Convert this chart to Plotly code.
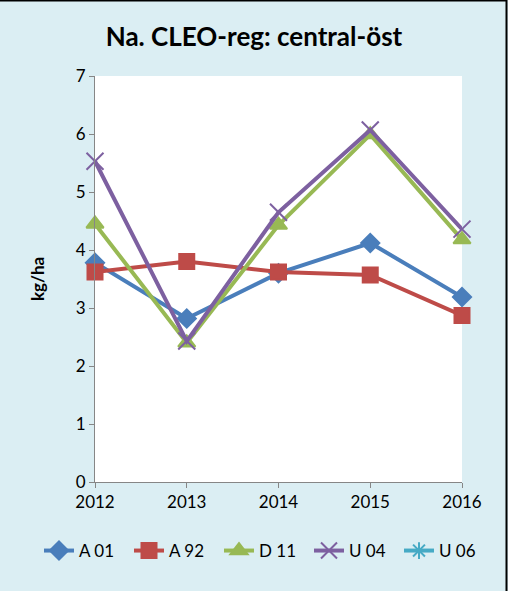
import plotly.graph_objects as go

years = ["2012", "2013", "2014", "2015", "2016"]
a01 = [3.78, 2.82, 3.60, 4.12, 3.19]
a92 = [3.62, 3.80, 3.62, 3.57, 2.87]
d11 = [4.45, 2.40, 4.43, 5.99, 4.18]
u04 = [5.53, 2.43, 4.65, 6.07, 4.36]
u06 = [None, None, None, None, None]

names = ["A 01", "A 92", "D 11", "U 04", "U 06"]
colors = ["#4A7EBB", "#BE4B48", "#98B954", "#7D60A0", "#46AAC5"]
symbols = ["diamond", "square", "triangle-up", "x-thin-open", "asterisk-open"]
sizes = [14, 15, 15, 17, 14]
series = [a01, a92, d11, u04, u06]

fig = go.Figure()
for n, c, s, sz, v in zip(names, colors, symbols, sizes, series):
    fig.add_trace(go.Scatter(
        x=years, y=v, name=n, mode="lines+markers",
        line=dict(color=c, width=4),
        marker=dict(symbol=s, size=sz, color=c, line=dict(color=c, width=2)),
    ))

L, R, T, B = 95, 46, 76, 109
W, H = 508, 591
PW, PH = W - L - R, H - T - B
fig.update_layout(
    width=W, height=H,
    margin=dict(l=L, r=R, t=T, b=B),
    paper_bgcolor="#DBEEF3",
    plot_bgcolor="#FFFFFF",
    font=dict(family="Lato, Liberation Sans, sans-serif", size=17, color="#000000"),
    title=dict(text="<b>Na. CLEO-reg: central-öst</b>", x=0.5, xanchor="center",
               y=1 - 37 / H, yanchor="middle", font=dict(size=26)),
    showlegend=True,
    legend=dict(orientation="h", x=(39 - L) / PW, xanchor="left",
                y=-(551 - (H - B)) / PH, yanchor="middle",
                font=dict(size=17), bgcolor="rgba(0,0,0,0)",
                tracegroupgap=0, entrywidth=45, entrywidthmode="pixels"),
    xaxis=dict(type="category", range=[0, 4], showgrid=False, showline=True,
               linecolor="#868686", linewidth=1, ticks="outside", ticklen=5,
               tickcolor="#868686", tickfont=dict(size=17), zeroline=False),
    yaxis=dict(range=[0, 7], dtick=1, showgrid=False, showline=True,
               linecolor="#868686", linewidth=1, ticks="outside", ticklen=5,
               tickcolor="#868686", tickfont=dict(size=17), zeroline=False,
               title=dict(text="<b>kg/ha</b>", font=dict(size=17), standoff=26)),
    shapes=[
        dict(type="line", xref="paper", yref="paper",
             x0=-L / PW, x1=(W - L - 1) / PW,
             y0=(H - B - 0.5) / PH, y1=(H - B - 0.5) / PH,
             line=dict(color="#000000", width=2)),
        dict(type="line", xref="paper", yref="paper",
             x0=(W - L - 1.5) / PW, x1=(W - L - 1.5) / PW,
             y0=-B / PH, y1=(H - B) / PH,
             line=dict(color="#000000", width=2)),
    ],
)
fig.update_traces(cliponaxis=False)
fig.write_html("out.html", config={"displayModeBar": False},
               post_script="document.body.style.margin='0';document.body.style.overflow='hidden';")
